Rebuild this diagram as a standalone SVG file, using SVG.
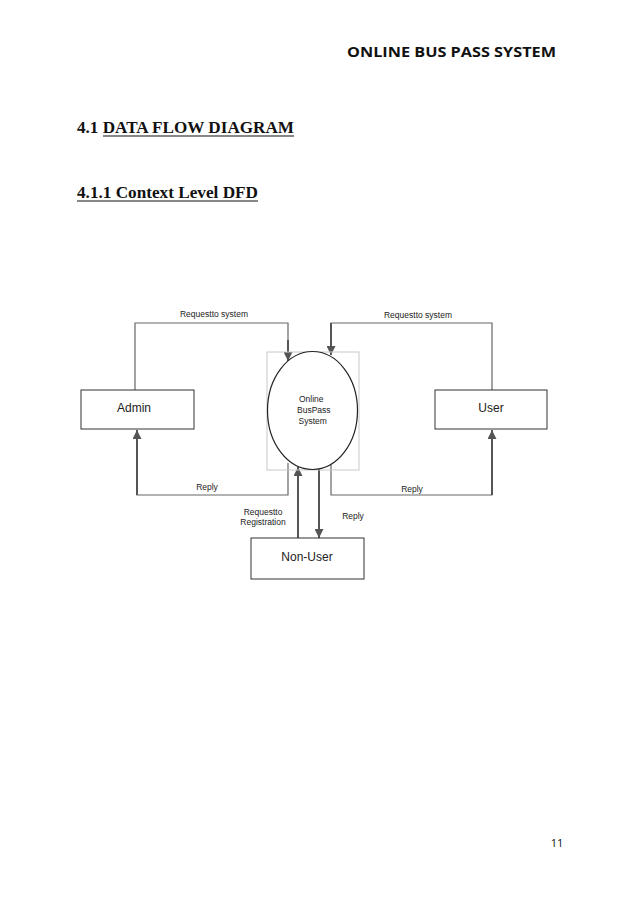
<svg xmlns="http://www.w3.org/2000/svg" width="638" height="903" viewBox="0 0 638 903">
<defs>
<marker id="ah" viewBox="0 0 10 10" refX="10" refY="5" markerWidth="9" markerHeight="9" markerUnits="userSpaceOnUse" orient="auto">
<path d="M0,0 L10,5 L0,10 z" fill="#555"/>
</marker>
<style>
.conn{fill:none;stroke:#666;stroke-width:1.2}
.arr{fill:none;stroke:#555;stroke-width:2}
.box{fill:#fff;stroke:#333;stroke-width:1}
.lbl{font-family:"Liberation Sans",Arial,sans-serif;font-size:8.5px;fill:#222}
.nl{font-family:"Liberation Sans",Arial,sans-serif;font-size:12px;fill:#222;text-anchor:middle}
.hd{font-family:"Liberation Serif","Times New Roman",serif;font-weight:bold;font-size:16px;fill:#111}
</style>
</defs>
<rect width="638" height="903" fill="#fff"/>
<text x="347" y="57" font-family="'Open Sans','Liberation Sans',sans-serif" font-weight="bold" font-size="15" textLength="209" lengthAdjust="spacingAndGlyphs" fill="#111">ONLINE BUS PASS SYSTEM</text>
<text class="hd" x="77" y="133" textLength="217" lengthAdjust="spacingAndGlyphs">4.1 DATA FLOW DIAGRAM</text>
<line x1="103" y1="136" x2="294" y2="136" stroke="#111" stroke-width="1.2"/>
<text class="hd" x="77" y="198" textLength="181" lengthAdjust="spacingAndGlyphs">4.1.1 Context Level DFD</text>
<line x1="77" y1="201" x2="258" y2="201" stroke="#111" stroke-width="1.2"/>
<text x="557" y="847" font-family="'Open Sans','Liberation Sans',sans-serif" font-size="11" text-anchor="middle" fill="#111">11</text>

<g id="connectors">
<path class="conn" d="M135,390 V323 H288 V345"/>
<line class="arr" x1="288" y1="340" x2="288" y2="361" marker-end="url(#ah)"/>
<path class="conn" d="M492,390 V323 H331 V340"/>
<line class="arr" x1="331" y1="323" x2="331" y2="355" marker-end="url(#ah)"/>
<path class="conn" d="M288,463 V495 H137 V440"/>
<line class="arr" x1="137" y1="495" x2="137" y2="430" marker-end="url(#ah)"/>
<path class="conn" d="M331,462 V495 H492 V440"/>
<line class="arr" x1="492" y1="495" x2="492" y2="430" marker-end="url(#ah)"/>
<line class="arr" x1="298" y1="538" x2="298" y2="467" marker-end="url(#ah)"/>
<line class="arr" x1="319" y1="469" x2="319" y2="538" marker-end="url(#ah)"/>
<text class="lbl" x="214" y="317" text-anchor="middle">Requestto system</text>
<text class="lbl" x="418" y="318" text-anchor="middle">Requestto system</text>
<text class="lbl" x="207" y="490" text-anchor="middle">Reply</text>
<text class="lbl" x="412" y="492" text-anchor="middle">Reply</text>
<text class="lbl" x="353" y="519" text-anchor="middle">Reply</text>
<text class="lbl" x="263" y="515" text-anchor="middle">Requestto</text>
<text class="lbl" x="263" y="525" text-anchor="middle">Registration</text>
</g>

<g id="process">
<rect x="267" y="352" width="92" height="118" fill="none" stroke="#c8c8c8" stroke-width="1"/>
<ellipse cx="312.5" cy="410.5" rx="45" ry="59" fill="#fff" stroke="#222" stroke-width="1.2"/>
<text class="lbl" x="299" y="402">Online</text>
<text class="lbl" x="297" y="413">BusPass</text>
<text class="lbl" x="298.5" y="424">System</text>
</g>
<g id="admin">
<rect class="box" x="81" y="390" width="113" height="39"/>
<text class="nl" x="134" y="412">Admin</text>
</g>
<g id="user">
<rect class="box" x="435" y="390" width="112" height="39"/>
<text class="nl" x="491" y="412">User</text>
</g>
<g id="nonuser">
<rect class="box" x="251" y="538" width="113" height="41"/>
<text class="nl" x="307" y="561">Non-User</text>
</g>
</svg>
